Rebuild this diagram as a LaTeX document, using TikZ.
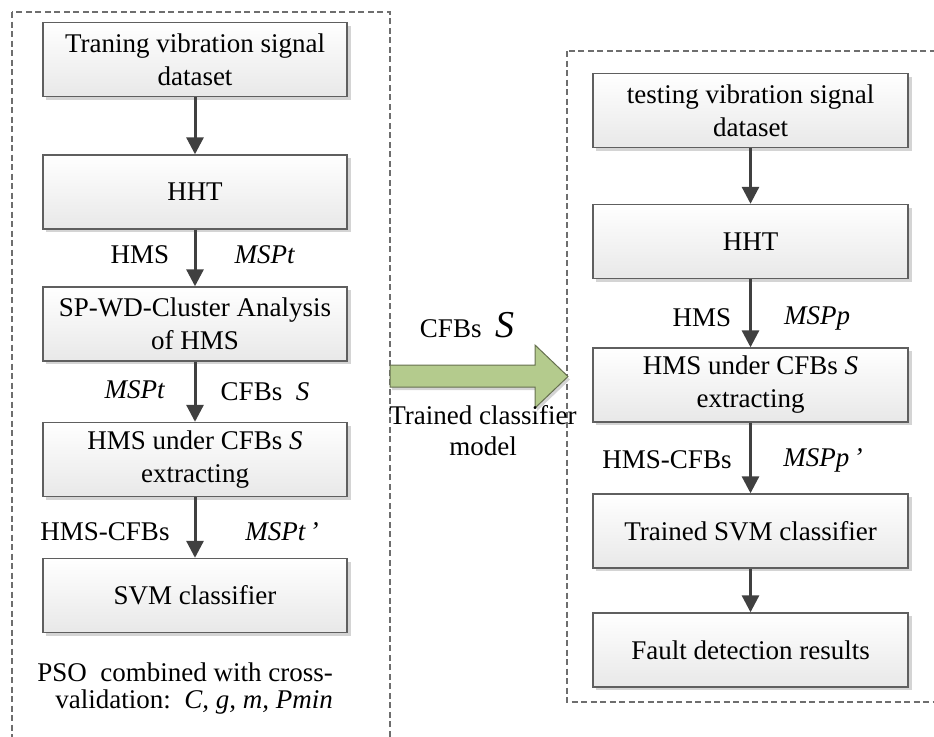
\documentclass[tikz,border=0pt]{standalone}
\usepackage{fontspec}
\setmainfont{Liberation Serif}
\usetikzlibrary{arrows.meta}
\definecolor{boxline}{HTML}{5F5F5F}
\definecolor{arrowgray}{HTML}{404040}
\definecolor{dashgray}{HTML}{6E6E6E}
\definecolor{shadowgray}{HTML}{D4D4D4}
\definecolor{arrowgreen}{HTML}{B4CB8D}
\definecolor{arrowedge}{HTML}{66704F}
\tikzset{
  stepbox/.style={draw=boxline, line width=1.4pt, top color=white, bottom color=black!9,
    minimum height=74pt, inner sep=0pt, align=center,
    font=\fontsize{27}{33}\selectfont},
  leftbox/.style={stepbox, minimum width=304pt},
  rightbox/.style={stepbox, minimum width=315pt},
  boxshadow/.style={fill=shadowgray, draw=none},
  flow/.style={draw=arrowgray, line width=3pt, -{Triangle[length=17pt,width=17pt]}},
  lbl/.style={inner sep=0pt, font=\fontsize{27}{32}\selectfont},
  frame/.style={draw=dashgray, line width=1.1pt, dash pattern=on 6pt off 3.5pt},
}
\begin{document}
\begin{tikzpicture}[x=1pt, y=-1pt]
\useasboundingbox (0,0) rectangle (934,736);
\clip (0,0) rectangle (934,736);

% dashed frames of the training and testing stages
\draw[frame] (12,12) rectangle (390,760);
\draw[frame] (567,51) rectangle (960,702);

% soft shadows behind the boxes
\foreach \cy in {59.5,192,324,459.5,595.5}
  \fill[boxshadow] (46,\cy-34) rectangle (351,\cy+40);
\foreach \cy in {110.5,241.5,385,531,650}
  \fill[boxshadow] (596,\cy-34) rectangle (912,\cy+40);

% training stage
\node[leftbox] (l1) at (195,59.5) {Traning vibration signal\\dataset};
\node[leftbox] (l2) at (195,192) {HHT};
\node[leftbox] (l3) at (195,324) {SP-WD-Cluster Analysis\\of HMS};
\node[leftbox] (l4) at (195,459.5) {HMS under CFBs \textit{S}\\extracting};
\node[leftbox] (l5) at (195,595.5) {SVM classifier};

\draw[flow] (l1) -- (l2);
\draw[flow] (l2) -- (l3);
\draw[flow] (l3) -- (l4);
\draw[flow] (l4) -- (l5);

\node[lbl] (a1) at (140,255) {HMS};
\node[lbl] (a2) at (265,255) {\textit{MSPt}};
\node[lbl] (b1) at (135,390) {\textit{MSPt}};
\node[lbl] (b2) at (265,392) {CFBs\ \ \textit{S}};
\node[lbl] (c1) at (105,532) {HMS-CFBs};
\node[lbl] (c2) at (282,532) {\textit{MSPt\,’}};
\node[lbl, anchor=east] (pso1) at (333,672) {PSO\ \ combined with cross-};
\node[lbl, anchor=east] (pso2) at (333,702) {validation:\ \ \textit{C, g, m, Pmin}};

% testing stage
\node[rightbox] (r1) at (750.5,110.5) {testing vibration signal\\dataset};
\node[rightbox] (r2) at (750.5,241.5) {HHT};
\node[rightbox] (r3) at (750.5,385) {HMS under CFBs \textit{S}\\extracting};
\node[rightbox] (r4) at (750.5,531) {Trained SVM classifier};
\node[rightbox] (r5) at (750.5,650) {Fault detection results};

\draw[flow] (r1) -- (r2);
\draw[flow] (r2) -- (r3);
\draw[flow] (r3) -- (r4);
\draw[flow] (r4) -- (r5);

\node[lbl] (d1) at (702,318) {HMS};
\node[lbl] (d2) at (817,318) {\textit{MSPp}};
\node[lbl] (e1) at (667,460) {HMS-CFBs};
\node[lbl] (e2) at (823,460) {\textit{MSPp\,’}};

% transfer of the trained model
\fill[shadowgray, shift={(2,3)}]
  (390,365) -- (535,365) -- (535,345) -- (568,376.5) -- (535,408) -- (535,387) -- (390,387) -- cycle;
\draw[fill=arrowgreen, draw=arrowedge, line width=1pt]
  (390,365) -- (535,365) -- (535,345) -- (568,376.5) -- (535,408) -- (535,387) -- (390,387) -- cycle;
\node[lbl] (m1) at (467,325) {CFBs\ \ {\fontsize{38}{40}\selectfont\textit{S}}};
\node[lbl] (m2) at (483,415) {Trained classifier};
\node[lbl] (m3) at (483,446) {model};
\end{tikzpicture}
\end{document}
